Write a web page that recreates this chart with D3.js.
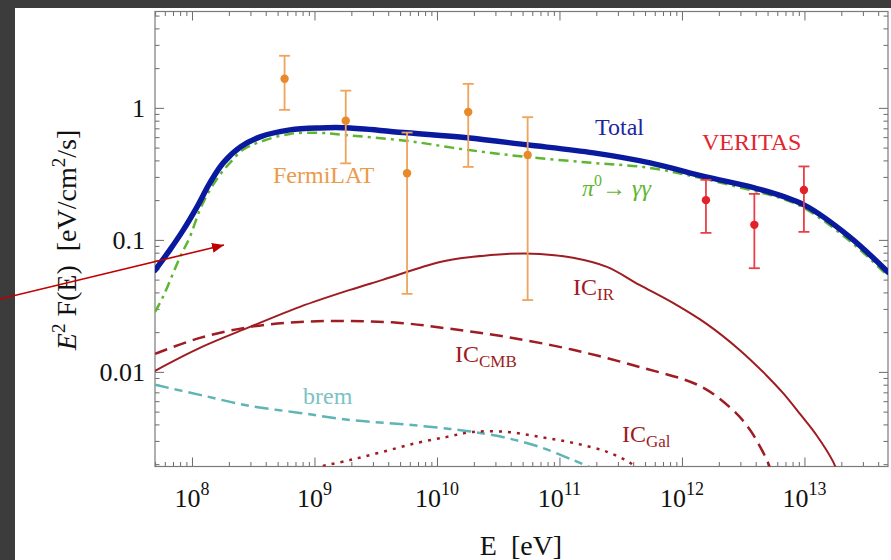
<!DOCTYPE html>
<head>
<meta charset="utf-8">
<title>E2 F(E) spectrum</title>
<style>
    body { margin:0; background:#3c3c3c; }
    svg { display:block; }
    text { font-family:"Liberation Serif","DejaVu Serif",serif; }
</style>
</head>
<body>
<svg width="891" height="560"></svg>

<script src="https://cdnjs.cloudflare.com/ajax/libs/d3/7.8.5/d3.min.js"></script>
<script>
// model curves, [E in eV, E^2 F(E)]
var totalCurve = [[5.0e7,0.059],[6.6e7,0.084],[8.5e7,0.119],[1.1e8,0.178],[1.4e8,0.270],[1.8e8,0.383],
  [2.5e8,0.507],[3.6e8,0.603],[6.3e8,0.681],[1.1e9,0.705],[1.95e9,0.705],[5.7e9,0.647],[1.76e10,0.593],
  [5.4e10,0.525],[1.9e11,0.456],[5.5e11,0.383],[1.57e12,0.300],[3.9e12,0.248],[9.9e12,0.184],
  [2.35e13,0.105],[4.8e13,0.057]];
var pionCurve = [[5.0e7,0.0285],[5.8e7,0.037],[8.0e7,0.0744],[9.6e7,0.105],[1.16e8,0.169],[1.4e8,0.239],
  [1.69e8,0.311],[2.04e8,0.383],[2.61e8,0.481],[3.59e8,0.552],[6.3e8,0.635],[1.11e9,0.647],[1.71e9,0.624],
  [5.7e9,0.562],[1.76e10,0.481],[5.4e10,0.425],[1.87e11,0.383],[5.5e11,0.351],[1.4e12,0.295],
  [3.59e12,0.239],[6.3e12,0.208],[9.9e12,0.175],[2.35e13,0.098],[4.8e13,0.0534]];
var icIrCurve = [[5.0e7,0.0102],[1.16e8,0.0152],[2.97e8,0.0219],[7.6e8,0.0311],[1.95e9,0.0418],[3.6e9,0.0498],
  [1.06e10,0.068],[1.97e10,0.0744],[3.7e10,0.0783],[6.9e10,0.0783],[1.29e11,0.0731],[2.44e11,0.0624],
  [4.5e11,0.0456],[8.45e11,0.0333],[1.6e12,0.0230],[2.97e12,0.0146],[4.9e12,0.0094],[6.7e12,0.0069],
  [9.2e12,0.0048],[1.26e13,0.0033],[1.71e13,0.0021],[1.81e13,0.00185]];
var icCmbCurve = [[5.0e7,0.0137],[1.16e8,0.0181],[2.97e8,0.0219],[7.6e8,0.0239],[1.95e9,0.0243],[5.0e9,0.0235],
  [1.28e10,0.0212],[3.7e10,0.0184],[1.29e11,0.0147],[4.5e11,0.0109],[1.4e12,0.00783],[2.6e12,0.00515],
  [3.59e12,0.00364],[4.94e12,0.00215],[5.2e12,0.0019]];
var icGalCurve = [[1.17e9,0.00194],[1.95e9,0.00215],[3.6e9,0.00248],[6.9e9,0.0029],[1.21e10,0.00322],
  [1.97e10,0.00351],[3.7e10,0.00351],[6.9e10,0.00322],[1.29e11,0.0029],[2.44e11,0.00248],[3.77e11,0.00205],
  [4.1e11,0.0019]];
var bremCurve = [[5.0e7,0.00798],[1.16e8,0.0067],[2.97e8,0.00552],[7.6e8,0.00489],[1.95e9,0.00432],
  [5.0e9,0.00403],[1.28e10,0.0037],[1.97e10,0.00351],[3.7e10,0.00316],[6.9e10,0.0027],[1.29e11,0.00215],
  [1.77e11,0.0019]];

// data points
var fermiE  = [5.7e8, 1.8e9, 5.7e9, 1.8e10, 5.5e10];
var fermiF  = [1.66, 0.80, 0.32, 0.93, 0.44];
var fermiLo = [0.966, 0.38, 0.039, 0.357, 0.035];
var fermiHi = [2.48, 1.35, 0.65, 1.52, 0.85];
var veritasE  = [1.57e12, 3.9e12, 9.9e12];
var veritasF  = [0.20, 0.13, 0.239];
var veritasLo = [0.113, 0.061, 0.115];
var veritasHi = [0.285, 0.223, 0.36];

var xMajor = [1e8, 1e9, 1e10, 1e11, 1e12, 1e13];
var xExp   = ["8", "9", "10", "11", "12", "13"];
var yMajor = [1, 0.1, 0.01];
var yLabels = ["1", "0.1", "0.01"];

var L = 155, R = 888, T = 11.5, B = 466.5;
var x = d3.scaleLog().domain([4.99e7, 4.81e13]).range([L, R]);
var y = d3.scaleLog().domain([1.92e-3, 5.37]).range([B, T]);

var svg = d3.select("svg");
svg.append("rect").attr("x", 15).attr("y", 8).attr("width", 876).attr("height", 552).attr("fill", "#fff");

svg.append("clipPath").attr("id", "plot")
  .append("rect").attr("x", L).attr("y", T).attr("width", R - L).attr("height", B - T);

// minor ticks
function minors(lo, hi) {
  var out = [];
  for (var e = Math.floor(Math.log10(lo)); e <= Math.ceil(Math.log10(hi)); e++)
    for (var m = 2; m <= 9; m++) {
      var v = m * Math.pow(10, e);
      if (v > lo && v < hi) out.push(v);
    }
  return out;
}
var xMinor = minors(x.domain()[0], x.domain()[1]);
var yMinor = minors(y.domain()[0], y.domain()[1]);

function drawAxis(axisFn, scale, tr, vals, size) {
  var g = svg.append("g").attr("transform", tr)
    .call(axisFn(scale).tickValues(vals).tickSize(-size).tickFormat(""));
  g.select(".domain").remove();
  g.selectAll("line").attr("stroke", "#6a6a6a").attr("stroke-width", 1);
}
drawAxis(d3.axisBottom, x, "translate(0," + B + ")", xMajor, 9);
drawAxis(d3.axisBottom, x, "translate(0," + B + ")", xMinor, 4.5);
drawAxis(d3.axisTop, x, "translate(0," + T + ")", xMajor, 9);
drawAxis(d3.axisTop, x, "translate(0," + T + ")", xMinor, 4.5);
drawAxis(d3.axisLeft, y, "translate(" + L + ",0)", yMajor, 9);
drawAxis(d3.axisLeft, y, "translate(" + L + ",0)", yMinor, 4.5);
drawAxis(d3.axisRight, y, "translate(" + R + ",0)", yMajor, 9);
drawAxis(d3.axisRight, y, "translate(" + R + ",0)", yMinor, 4.5);

svg.append("rect").attr("x", L).attr("y", T).attr("width", R - L).attr("height", B - T)
  .attr("fill", "none").attr("stroke", "#7a7a7a").attr("stroke-width", 1.2);

// tick labels
xMajor.forEach(function(v, i) {
  var t = svg.append("text").attr("x", x(v)).attr("y", 507).attr("text-anchor", "middle")
    .attr("font-size", 26).attr("fill", "#111");
  t.append("tspan").text("10");
  t.append("tspan").attr("dy", -12).attr("font-size", 18).text(xExp[i]);
});
yMajor.forEach(function(v, i) {
  svg.append("text").attr("x", 145).attr("y", y(v) + 9).attr("text-anchor", "end")
    .attr("font-size", 26).attr("fill", "#111").text(yLabels[i]);
});

// axis titles
svg.append("text").attr("x", 521).attr("y", 555).attr("text-anchor", "middle")
  .attr("font-size", 28).attr("fill", "#111").text("E\u00a0\u00a0[eV]");
var yl = svg.append("text").attr("transform", "translate(76,240) rotate(-90)")
  .attr("text-anchor", "middle").attr("font-size", 28).attr("fill", "#111");
yl.append("tspan").attr("font-style", "italic").text("E");
yl.append("tspan").attr("dy", -11).attr("font-size", 19).text("2");
yl.append("tspan").attr("dy", 11).text("\u00a0F(E)\u00a0\u00a0[eV/cm");
yl.append("tspan").attr("dy", -11).attr("font-size", 19).text("2");
yl.append("tspan").attr("dy", 11).text("/s]");

// curves
var line = d3.line().x(function(d) { return x(d[0]); }).y(function(d) { return y(d[1]); })
  .curve(d3.curveCatmullRom);
var curves = svg.append("g").attr("clip-path", "url(#plot)");
function drawCurve(data, color, w, dash) {
  curves.append("path").datum(data).attr("d", line).attr("fill", "none")
    .attr("stroke", color).attr("stroke-width", w).attr("stroke-dasharray", dash)
    .attr("stroke-linecap", dash ? "butt" : "round");
}
drawCurve(bremCurve, "#5fb4b4", 2.5, "14,6,8,6");
drawCurve(icGalCurve, "#9e1c22", 2.5, "3,6");
drawCurve(icCmbCurve, "#9e1c22", 2.5, "13,7");
drawCurve(icIrCurve, "#9e1c22", 2, null);
drawCurve(pionCurve, "#5db62e", 2.5, "10,5,3,5");
drawCurve(totalCurve, "#0a1a9e", 5.5, null);

// error bars
function drawPoints(E, F, lo, hi, color, barColor) {
  var g = svg.append("g");
  E.forEach(function(e, i) {
    var cx = x(e);
    g.append("line").attr("x1", cx).attr("x2", cx).attr("y1", y(lo[i])).attr("y2", y(hi[i]))
      .attr("stroke", barColor).attr("stroke-width", 1.8);
    [lo[i], hi[i]].forEach(function(v) {
      g.append("line").attr("x1", cx - 5.5).attr("x2", cx + 5.5).attr("y1", y(v)).attr("y2", y(v))
        .attr("stroke", barColor).attr("stroke-width", 1.8);
    });
    g.append("circle").attr("cx", cx).attr("cy", y(F[i])).attr("r", 4.2).attr("fill", color);
  });
}
drawPoints(fermiE, fermiF, fermiLo, fermiHi, "#e8892a", "#efa45c");
drawPoints(veritasE, veritasF, veritasLo, veritasHi, "#e3212b", "#e84048");

// labels
function label(txt, px, py, color, sub) {
  var t = svg.append("text").attr("x", px).attr("y", py).attr("font-size", 24).attr("fill", color);
  t.append("tspan").text(txt);
  if (sub) t.append("tspan").attr("dy", 5).attr("font-size", 17).text(sub);
  return t;
}
label("Total", 595, 135, "#1c26a0");
label("VERITAS", 702, 150, "#e3262e");
label("FermiLAT", 273, 183, "#ec9a4a");
label("IC", 573, 295, "#9e1c22", "IR");
label("IC", 455, 362, "#9e1c22", "CMB");
label("IC", 622, 442, "#9e1c22", "Gal");
label("brem", 303, 404, "#7cc2c2");
var pi = svg.append("text").attr("x", 582).attr("y", 196).attr("font-size", 24).attr("fill", "#5db62e");
pi.append("tspan").attr("font-style", "italic").text("\u03c0");
pi.append("tspan").attr("dy", -10).attr("font-size", 16).text("0");
pi.append("tspan").attr("dy", 10).text("\u2192\u00a0");
pi.append("tspan").attr("font-style", "italic").text("\u03b3\u03b3");

// red arrow
svg.append("defs").append("marker").attr("id", "head").attr("viewBox", "0 0 12 10")
  .attr("refX", 12).attr("refY", 5).attr("markerWidth", 12).attr("markerHeight", 10)
  .attr("markerUnits", "userSpaceOnUse").attr("orient", "auto")
  .append("path").attr("d", "M0,0L12,5L0,10Z").attr("fill", "#c00000");
svg.append("line").attr("x1", 0).attr("y1", 299).attr("x2", 224).attr("y2", 245)
  .attr("stroke", "#c00000").attr("stroke-width", 1.6).attr("marker-end", "url(#head)");
</script>
</body>
